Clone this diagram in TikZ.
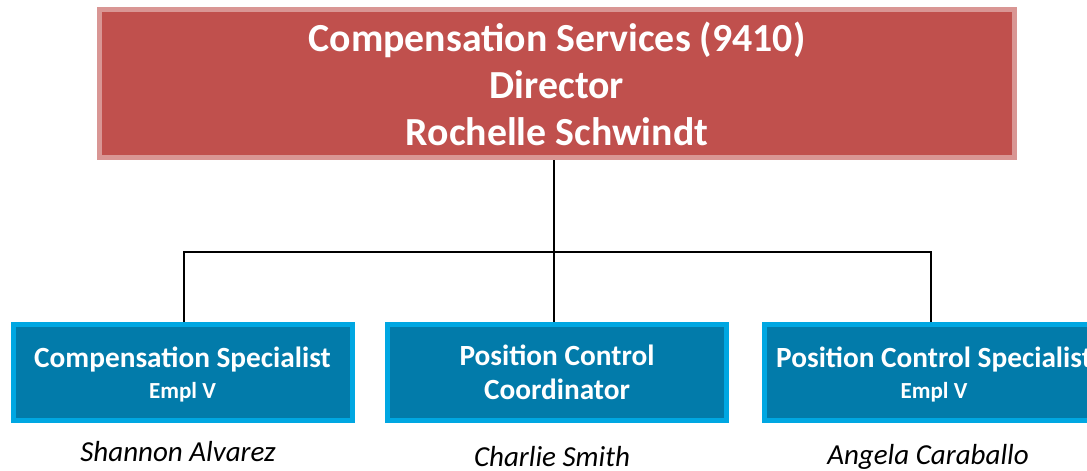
\documentclass[tikz,border=0pt]{standalone}
\usepackage{fontspec}
\setmainfont{Carlito}
\definecolor{redfill}{HTML}{C0504D}
\definecolor{redline}{HTML}{D99694}
\definecolor{bluefill}{HTML}{027BAA}
\definecolor{blueline}{HTML}{00A7E2}
\tikzset{
  topbox/.style={draw=redline, fill=redfill, line width=5pt, inner sep=0pt,
    minimum width=915pt, minimum height=148pt, align=center, text=white,
    font=\fontsize{39.8}{47}\selectfont\bfseries},
  childbox/.style={draw=blueline, fill=bluefill, line width=5pt, inner sep=0pt,
    minimum width=339pt, minimum height=96pt, align=center, text=white,
    font=\fontsize{29.3}{34}\selectfont\bfseries},
  titletxt/.style={inner sep=0pt, anchor=base, text=white,
    font=\fontsize{29.3}{34}\selectfont\bfseries},
  empltxt/.style={inner sep=0pt, anchor=base, text=white,
    font=\fontsize{23}{26}\selectfont\bfseries},
  namelbl/.style={inner sep=0pt, font=\fontsize{29}{34}\selectfont\itshape},
  conn/.style={line width=2pt, draw=black}
}
\begin{document}
\begin{tikzpicture}[x=1pt,y=-1pt]
\useasboundingbox (0,0) rectangle (1087,471);
\clip (0,0) rectangle (1087,471);
\node[topbox] (top) at (557,83.5) {Compensation Services (9410)\\Director\\Rochelle Schwindt};
\node[childbox] (left) at (182.5,372.5) {};
\node[titletxt] (lefttitle) at (182.5,367) {Compensation Specialist};
\node[empltxt] (leftempl) at (182.5,398) {Empl V};
\node[childbox] (mid) at (557,372.5) {Position Control\\Coordinator};
\node[childbox] (right) at (934,372.5) {};
\node[titletxt] (righttitle) at (934,367) {Position Control Specialist};
\node[empltxt] (rightempl) at (934,398) {Empl V};
\coordinate (bus) at (554,252);
\draw[conn] ([xshift=-3pt]top.south) -- ([xshift=-3pt]mid.north);
\draw[conn] ([xshift=1pt]left.north) |- (bus) -| ([xshift=-3pt]right.north);
\node[namelbl] (n1) at (178,452) {Shannon Alvarez};
\node[namelbl] (n2) at (552,457) {Charlie Smith};
\node[namelbl] (n3) at (928,457) {Angela Caraballo};
\end{tikzpicture}
\end{document}
